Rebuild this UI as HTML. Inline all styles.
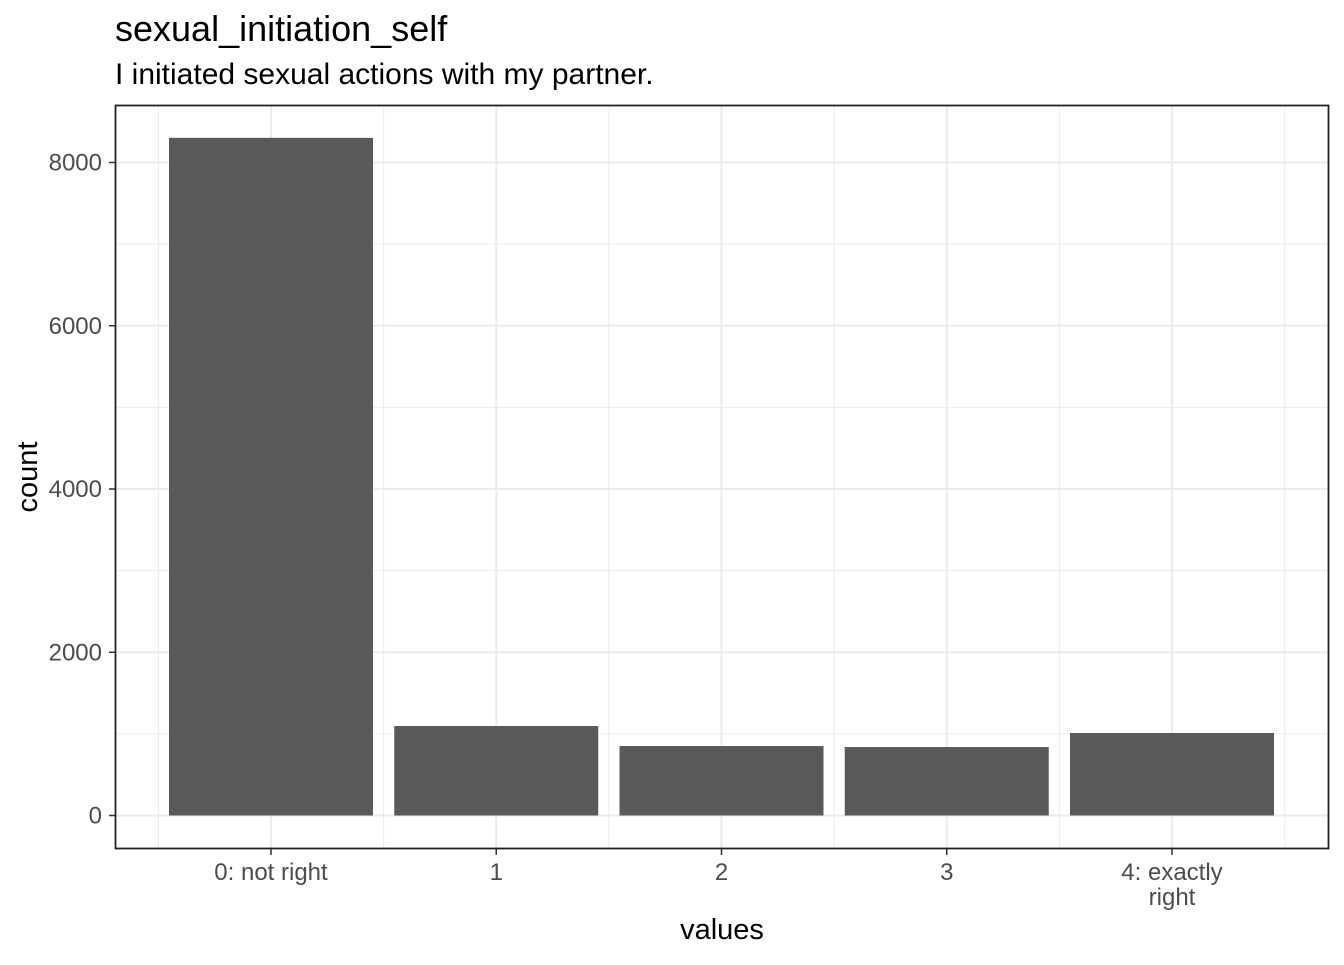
<!DOCTYPE html>
<html><head><meta charset="utf-8"><style>
body{margin:0;background:#fff;font-family:"Liberation Sans",sans-serif;}
svg text{font-family:"Liberation Sans",sans-serif;}
</style></head><body>
<svg id="chart" width="1344" height="960" xmlns="http://www.w3.org/2000/svg">
<text x="115" y="41" style="font-size:36px" fill="#000">sexual_initiation_self</text>
<text x="115" y="84" style="font-size:30px" fill="#000">I initiated sexual actions with my partner.</text>
<g id="grid"></g><g id="bars"></g><g id="axes"></g>
<rect x="115.5" y="105.5" width="1213" height="743" fill="none" stroke="#222" stroke-width="1.8"/>
<text x="722" y="939" style="font-size:29px" text-anchor="middle">values</text>
<text transform="translate(37,477) rotate(-90)" style="font-size:29px" text-anchor="middle">count</text>
</svg>
<script>
const categories=["0: not right","1","2","3","4: exactly right"];
const counts=[8302,1096,851,839,1011];
const yTicks=[0,2000,4000,6000,8000];
const NS="http://www.w3.org/2000/svg";
const y0=815.5,pxPer=(815.5-162.5)/8000;
function y(v){return y0-v*pxPer;}
function x(i){return 271+i*225.25;}
const bw=204;
function mk(t,a,p){const e=document.createElementNS(NS,t);for(const k in a)e.setAttribute(k,a[k]);p.appendChild(e);return e;}
const grid=document.getElementById('grid'),bars=document.getElementById('bars'),axes=document.getElementById('axes');
for(let i=0;i<yTicks.length;i++){
  const l=mk('line',{x1:116,x2:1328,y1:y(yTicks[i]),y2:y(yTicks[i]),stroke:'#ebebeb','stroke-width':2},grid);
  
  
  if(i<yTicks.length-1){const m=(yTicks[i]+yTicks[i+1])/2;
    const l2=mk('line',{x1:116,x2:1328,y1:y(m),y2:y(m),stroke:'#ebebeb','stroke-width':1},grid);
    
    }
  const t=mk('line',{x1:109,x2:115,y1:y(yTicks[i]),y2:y(yTicks[i]),stroke:'#333','stroke-width':1.5},axes);
  
  
  const tx=mk('text',{x:102,y:y(yTicks[i])+8,fill:'#4d4d4d','text-anchor':'end',style:'font-size:24px'},axes);
  tx.textContent=yTicks[i];
  
  
}
for(let i=0;i<=categories.length;i++){
  const mx=x(i)-112.6;
  const l=mk('line',{x1:mx,x2:mx,y1:106,y2:848,stroke:'#ebebeb','stroke-width':1},grid);
  
  
}
categories.forEach((c,i)=>{
  const g=mk('line',{x1:x(i),x2:x(i),y1:106,y2:848,stroke:'#ebebeb','stroke-width':2},grid);
  
  
  const r=mk('rect',{x:x(i)-bw/2,y:y(counts[i]),width:bw,height:y0-y(counts[i]),fill:'#595959'},bars);
  
  
  const t=mk('line',{x1:x(i),x2:x(i),y1:849,y2:855,stroke:'#333','stroke-width':1.5},axes);
  
  
  const parts=c==="4: exactly right"?["4: exactly","right"]:[c];
  parts.forEach((p,j)=>{
    const tx=mk('text',{x:x(i),y:880+j*25,fill:'#4d4d4d','text-anchor':'middle',style:'font-size:24px'},axes);
    tx.textContent=p;
    
    
  });
});
</script>
</body></html>
